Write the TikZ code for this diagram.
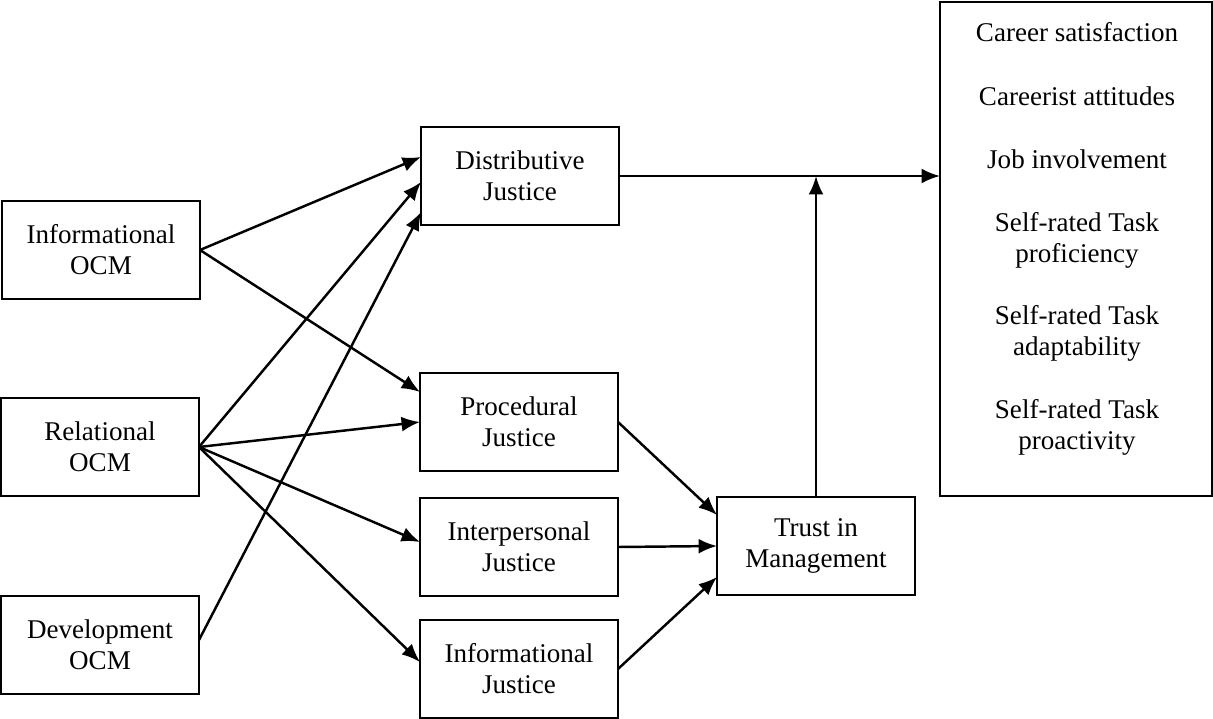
\documentclass[tikz,border=0pt]{standalone}
\usepackage{fontspec}
\setmainfont{Liberation Serif}
\usepackage{tikz}
\usetikzlibrary{arrows.meta,calc}

\begin{document}
\begin{tikzpicture}[x=0.02cm,y=-0.02cm,
    every node/.style={font=\fontsize{15.4}{17.6}\selectfont}]

    \tikzstyle{box}=[
      draw,
      line width=1.5pt,
      outer sep=0pt,
      align=center,
      minimum width=3.96cm,
      minimum height=1.96cm
    ]
    \tikzstyle{link}=[
      line width=1.4pt,
      -{Latex[length=10.5pt,width=8.5pt]}
    ]

    \useasboundingbox (0,0) rectangle (1213,719);

    % --- Left column: OCM practices ---
    \node[box] (info) at (101,250) {Informational\\ OCM};
    \node[box] (rel) at (100,447) {Relational\\ OCM};
    \node[box] (dev) at (100,645) {Development\\ OCM};

    % --- Middle column: justice ---
    \node[box] (dist) at (520,176) {Distributive\\ Justice};
    \node[box] (proc) at (519,422) {Procedural\\ Justice};
    \node[box] (inter) at (519,547) {Interpersonal\\ Justice};
    \node[box] (infoj) at (519,669) {Informational\\ Justice};

    % --- Trust and outcomes ---
    \node[box] (trust) at (816,546) {Trust in\\ Management};
    \node[box, minimum width=5.44cm, minimum height=9.88cm] (out) at (1076,249) {};
    \node[align=center, anchor=north, inner sep=0pt] (outlist) at (1077,22)
      {Career satisfaction\\[0.66cm]
       Careerist attitudes\\[0.64cm]
       Job involvement\\[0.64cm]
       Self-rated Task\\ proficiency\\[0.64cm]
       Self-rated Task\\ adaptability\\[0.64cm]
       Self-rated Task\\ proactivity};

    % --- OCM to justice ---
    \draw[link] (info.east) -- ($(dist.west)+(0,-19)$);
    \draw[link] (info.east) -- ($(proc.west)+(0,-30)$);
    \draw[link] (rel.east) -- ($(dist.west)+(0,6)$);
    \draw[link] (rel.east) -- (proc.west);
    \draw[link] (rel.east) -- ($(inter.west)+(0,-5)$);
    \draw[link] (rel.east) -- ($(infoj.west)+(0,-7)$);
    \draw[link] ($(dev.east)+(0,-5)$) -- ($(dist.west)+(0,36)$);

    % --- Justice to trust ---
    \draw[link] (proc.east) -- ($(trust.west)+(0,-31)$);
    \draw[link] (inter.east) -- (trust.west);
    \draw[link] (infoj.east) -- ($(trust.west)+(0,31)$);

    % --- To outcomes ---
    \draw[link] (dist.east) -- (dist.east -| out.west);
    \draw[link] (trust.north) -- (trust.north |- dist.east);

\end{tikzpicture}
\end{document}
